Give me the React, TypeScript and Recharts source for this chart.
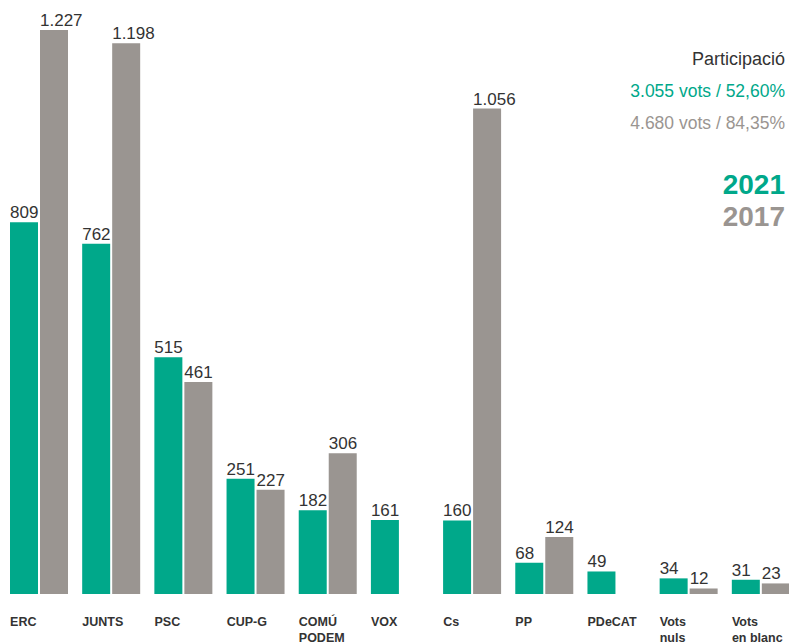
import { BarChart, Bar, XAxis, YAxis, LabelList } from "recharts"

const categories = ["ERC", "JUNTS", "PSC", "CUP-G", "COMÚ\nPODEM", "VOX", "Cs", "PP", "PDeCAT", "Vots\nnuls", "Vots\nen blanc"]
const votes2021 = [809, 762, 515, 251, 182, 161, 160, 68, 49, 34, 31]
const votes2017 = [1227, 1198, 461, 227, 306, null, 1056, 124, null, 12, 23]
const participation = ["3.055 vots / 52,60%", "4.680 vots / 84,35%"]
const years = ["2021", "2017"]

const GREEN = "#00a88a"
const GREY = "#9a9591"
const TEXT = "#333333"
const FONT = "'Liberation Sans', Arial, Helvetica, sans-serif"

const data = categories.map((name, i) => ({
  name,
  v2021: votes2021[i],
  v2017: votes2017[i],
}))

const maxValue = Math.max(...votes2021, ...votes2017.filter((v): v is number => v != null))

// catalan thousands separator
function fmt(v: number) {
  return String(v).replace(/\B(?=(\d{3})+(?!\d))/g, ".")
}

function ValueLabel(props: any) {
  const { x, y, value } = props
  if (value == null) return null
  return (
    <text x={x} y={y - 4} textAnchor="start" fill={TEXT} fontSize={17} fontFamily={FONT}>
      {fmt(value)}
    </text>
  )
}

function CategoryTick(props: any) {
  const { x, y, payload } = props
  const lines = String(payload.value).split("\n")
  return (
    <text x={x - 29} y={y + 32} textAnchor="start" fill={TEXT} fontSize={12.5} fontWeight="bold" fontFamily={FONT}>
      {lines.map((l, i) => (
        <tspan key={i} x={x - 29} dy={i === 0 ? 0 : 16}>{l}</tspan>
      ))}
    </text>
  )
}

export default function App() {
  return (
    <div style={{ position: "absolute", left: 0, top: 0, width: 789, height: 644, overflow: "hidden", background: "#fff", fontFamily: FONT }}>
      <BarChart width={797} height={644} data={data} margin={{ top: 30, right: 0, left: 3, bottom: 0 }} barSize={28} barGap={2}>
        <XAxis dataKey="name" height={50} tickLine={false} axisLine={false} tickSize={0} tickMargin={0} interval={0} tick={<CategoryTick />} />
        <YAxis hide domain={[0, maxValue]} />
        <Bar dataKey="v2021" fill={GREEN} isAnimationActive={false}>
          <LabelList dataKey="v2021" content={<ValueLabel />} />
        </Bar>
        <Bar dataKey="v2017" fill={GREY} isAnimationActive={false}>
          <LabelList dataKey="v2017" content={<ValueLabel />} />
        </Bar>
      </BarChart>
      <div style={{ position: "absolute", right: 4, top: 0, textAlign: "right", whiteSpace: "nowrap" }}>
        <div style={{ position: "absolute", right: 0, top: 49, fontSize: 18, color: TEXT }}>Participació</div>
        <div style={{ position: "absolute", right: 0, top: 81, fontSize: 17.5, color: GREEN }}>{participation[0]}</div>
        <div style={{ position: "absolute", right: 0, top: 113, fontSize: 17.5, color: GREY }}>{participation[1]}</div>
        <div style={{ position: "absolute", right: 0, top: 169, fontSize: 28, fontWeight: "bold", color: GREEN }}>{years[0]}</div>
        <div style={{ position: "absolute", right: 0, top: 201, fontSize: 28, fontWeight: "bold", color: GREY }}>{years[1]}</div>
      </div>
    </div>
  )
}
